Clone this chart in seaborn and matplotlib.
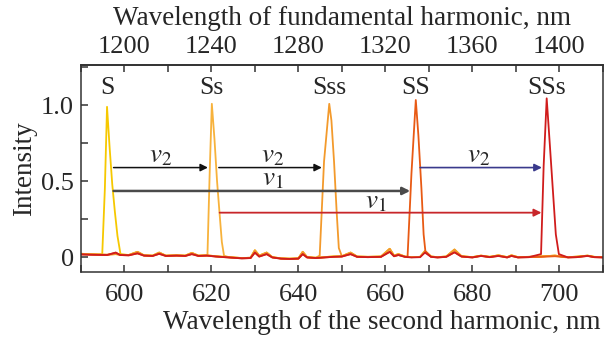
import matplotlib
matplotlib.use("Agg")
import matplotlib.pyplot as plt
import seaborn as sns
import numpy as np
import pandas as pd
from matplotlib.ticker import MultipleLocator, FixedLocator

# ---- data ----
# shared baseline (second-harmonic wavelength, nm) with small bumps
BASE_WL = [590, 592, 594, 596, 598, 599, 601, 603, 604.5, 606.5, 608, 609.5, 612, 614,
           615.5, 617, 619, 621, 624, 627, 629, 630, 631, 632.7, 634, 636, 638, 640,
           641, 642, 644, 646, 648, 650, 652, 653.5, 656, 659, 661, 662, 663, 664.5,
           666, 668, 669.1, 670.5, 672, 674, 675.9, 677.5, 680, 682, 684, 686, 688,
           689, 690.5, 693, 696, 699, 702, 704, 706.5, 708, 710]
BASE_WARM = [0.022, 0.02, 0.018, 0.016, 0.02, 0.016, 0.014, 0.035, 0.012, 0.01, 0.03, 0.01,
             0.012, 0.01, 0.028, 0.01, 0.012, 0.006, 0.0, -0.006, -0.004, 0.045, 0.01,
             0.03, 0.0, -0.008, -0.01, -0.008, 0.035, 0.0, -0.004, 0.0, 0.005, 0.006,
             0.03, 0.004, 0.002, 0.004, 0.055, 0.01, 0.02, 0.004, 0.0, 0.002, 0.04,
             0.004, 0.0, 0.004, 0.05, 0.006, 0.0, 0.01, 0.002, 0.012, 0.0, 0.012, 0.0,
             0.002, 0.005, 0.01, 0.0, 0.003, 0.01, 0.002, 0.0]
BASE_RED = [0.018, 0.016, 0.015, 0.014, 0.03, 0.014, 0.012, 0.025, 0.01, 0.008, 0.022, 0.008,
            0.01, 0.008, 0.02, 0.008, 0.01, 0.004, -0.002, -0.008, -0.006, 0.03, 0.004,
            0.02, -0.002, -0.01, -0.012, -0.01, 0.02, -0.002, -0.006, -0.002, 0.002, 0.004,
            0.02, 0.002, 0.0, 0.002, 0.035, 0.006, 0.014, 0.002, -0.002, 0.0, 0.03,
            0.002, -0.002, 0.002, 0.032, 0.004, -0.002, 0.008, 0.0, 0.008, -0.002, 0.008,
            -0.002, 0.0, 0.002, 0.006, -0.002, 0.0, 0.008, 0.0, -0.002]

PEAK_NAMES = ["S", "Ss", "Sss", "SS", "SSs"]
PEAK_POS = [596.0, 620.1, 647.1, 667.0, 697.1]
PEAK_WL = [
    [594.9, 595.5, 596.0, 596.6, 597.2, 597.8, 598.4, 599.1],
    [619.1, 619.6, 620.1, 620.7, 621.3, 621.9, 622.4, 622.9],
    [644.9, 645.9, 647.1, 647.6, 648.2, 648.8, 649.3],
    [665.1, 666.0, 667.0, 667.6, 668.3, 668.8, 669.2],
    [695.8, 696.4, 697.1, 697.8, 698.5, 699.2, 699.9],
]
PEAK_I = [
    [0.02, 0.45, 0.99, 0.72, 0.48, 0.3, 0.14, 0.02],
    [0.02, 0.55, 1.01, 0.78, 0.5, 0.28, 0.1, 0.01],
    [0.01, 0.63, 1.01, 0.9, 0.63, 0.3, 0.06],
    [0.0, 0.55, 1.035, 0.8, 0.45, 0.15, 0.04],
    [0.02, 0.6, 1.046, 0.75, 0.45, 0.15, 0.02],
]
COLORS = ["#f6c800", "#f7b23c", "#f39a2c", "#e85a14", "#d01c1c"]
USE_RED_BASE = [False, False, False, True, True]

# arrows: (start, end, y, color, lw)
ARROW_X0 = [597.5, 621.7, 597.5, 621.9, 668.0]
ARROW_X1 = [619.2, 645.4, 665.7, 695.9, 696.0]
ARROW_Y = [0.59, 0.59, 0.436, 0.293, 0.59]
ARROW_C = ["#111111", "#111111", "#4a4a4a", "#c8262a", "#3a3a8c"]
ARROW_LW = [1.1, 1.1, 1.8, 1.3, 1.2]
NU_TEXT = ["$v_2$", "$v_2$", "$v_1$", "$v_1$", "$v_2$"]
NU_X = [608.3, 634.0, 634.0, 657.7, 681.5]
NU_Y = [0.665, 0.665, 0.515, 0.365, 0.665]

# ---- build ----
sns.set_theme(style="ticks")
plt.rcParams["font.family"] = ["Liberation Serif", "DejaVu Serif"]
plt.rcParams["mathtext.fontset"] = "stix"

fig = plt.figure(figsize=(6.04, 3.39), dpi=100)
ax = fig.add_axes([0.134, 0.198, 0.864, 0.61])

for k in range(5):
    lo, hi = PEAK_WL[k][0], PEAK_WL[k][-1]
    base = BASE_RED if USE_RED_BASE[k] else BASE_WARM
    pts = [(w, v) for w, v in zip(BASE_WL, base) if w < lo or w > hi]
    pts += list(zip(PEAK_WL[k], PEAK_I[k]))
    pts.sort()
    df = pd.DataFrame(pts, columns=["wl", "I"])
    sns.lineplot(data=df, x="wl", y="I", ax=ax, color=COLORS[k], lw=1.3,
                 estimator=None, sort=False)

for k in range(5):
    ax.text(PEAK_POS[k], 1.115, PEAK_NAMES[k], ha="center", va="center", fontsize=18.5)

for k in range(5):
    ax.annotate("", xy=(ARROW_X1[k], ARROW_Y[k]), xytext=(ARROW_X0[k], ARROW_Y[k]),
                arrowprops=dict(arrowstyle="-|>", color=ARROW_C[k], lw=ARROW_LW[k],
                                mutation_scale=11, shrinkA=0, shrinkB=0))
    ax.text(NU_X[k], NU_Y[k], NU_TEXT[k], ha="center", va="center", fontsize=19.5)

ax.set_xlim(590, 710)
ax.set_ylim(-0.097, 1.265)
ax.xaxis.set_major_locator(FixedLocator([600, 620, 640, 660, 680, 700]))
ax.xaxis.set_minor_locator(MultipleLocator(10))
ax.yaxis.set_major_locator(FixedLocator([0, 0.5, 1.0]))
ax.yaxis.set_minor_locator(MultipleLocator(0.25))
ax.set_yticklabels(["0", "0.5", "1.0"])
ax.tick_params(which="both", direction="in", length=5, width=1.1, color="#333333",
               labelsize=19, top=False, right=False)
ax.tick_params(axis="x", pad=9)
ax.tick_params(axis="y", pad=5)
ax.set_xlabel("Wavelength of the second harmonic, nm", fontsize=19.5)
ax.xaxis.set_label_coords(0.995, -0.185)
ax.xaxis.label.set_horizontalalignment("right")
ax.set_ylabel("Intensity", fontsize=19.5, labelpad=3)
for s in ax.spines.values():
    s.set_visible(True)
    s.set_linewidth(1.1)
    s.set_color("#333333")

sec = ax.secondary_xaxis("top", functions=(lambda x: 2 * x, lambda x: x / 2))
sec.xaxis.set_major_locator(FixedLocator([1200, 1240, 1280, 1320, 1360, 1400]))
sec.xaxis.set_minor_locator(MultipleLocator(20))
sec.tick_params(which="both", direction="in", length=5, width=1.1, color="#333333",
                labelsize=19, pad=5)
sec.set_xlabel("Wavelength of fundamental harmonic, nm", fontsize=19.5, labelpad=8)

fig.savefig("out.png", dpi=100)
